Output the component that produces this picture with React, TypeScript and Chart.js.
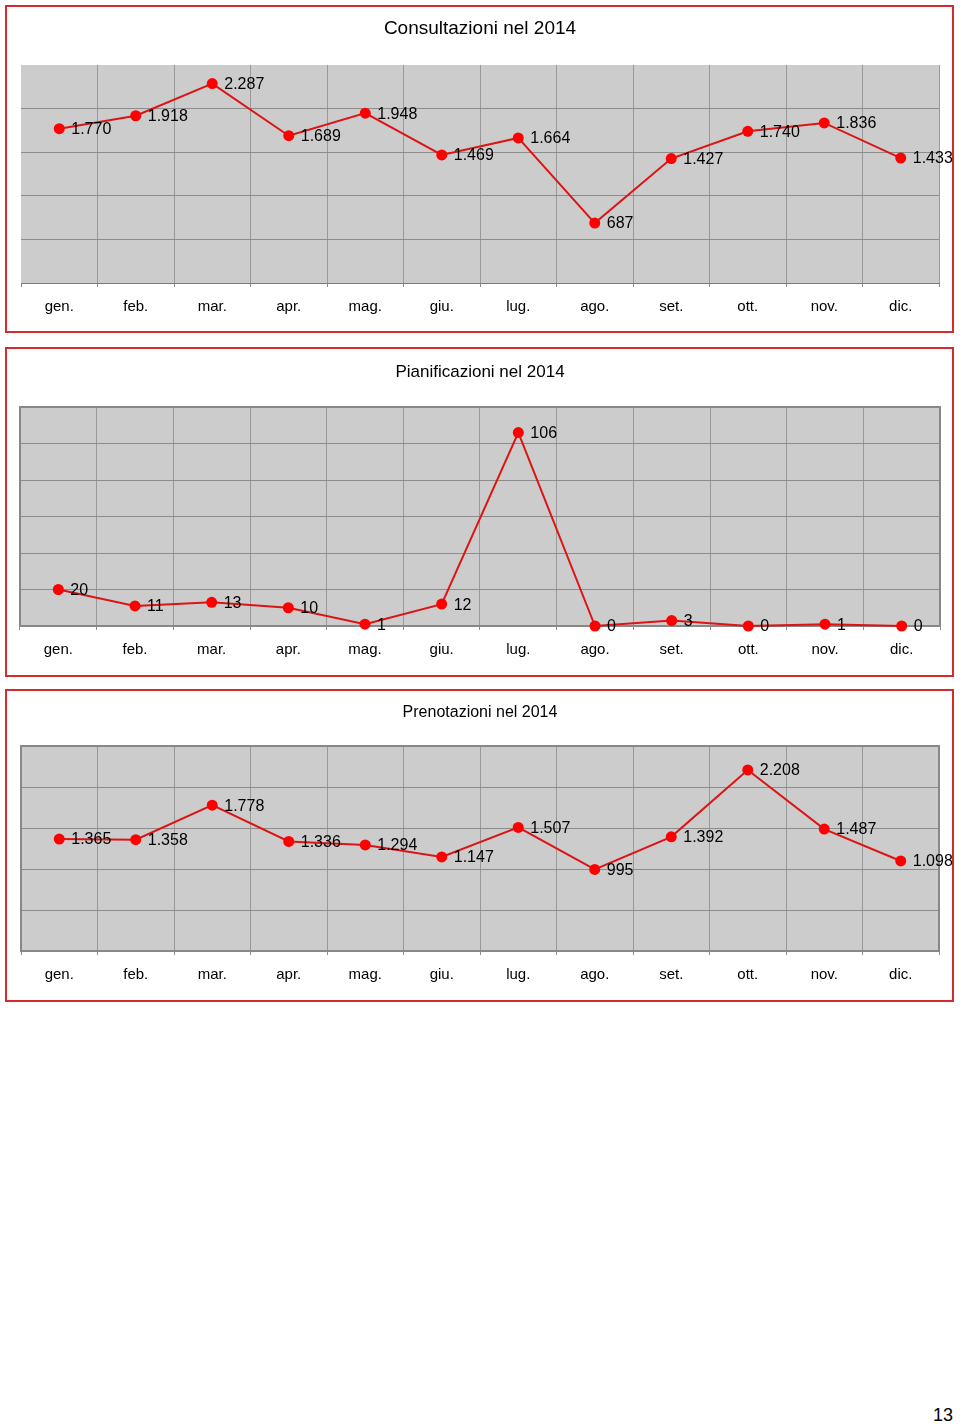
import React, { useEffect, useRef } from 'react';
import { Chart, registerables } from 'chart.js';

Chart.register(...registerables);

const MONTHS = ['gen.', 'feb.', 'mar.', 'apr.', 'mag.', 'giu.', 'lug.', 'ago.', 'set.', 'ott.', 'nov.', 'dic.'];
const CONSULTAZIONI = [1770, 1918, 2287, 1689, 1948, 1469, 1664, 687, 1427, 1740, 1836, 1433];
const PIANIFICAZIONI = [20, 11, 13, 10, 1, 12, 106, 0, 3, 0, 1, 0];
const PRENOTAZIONI = [1365, 1358, 1778, 1336, 1294, 1147, 1507, 995, 1392, 2208, 1487, 1098];

const TITLES = ['Consultazioni nel 2014', 'Pianificazioni nel 2014', 'Prenotazioni nel 2014'];
const Y_MAX = [2500, 120, 2500];
const Y_STEP = [500, 20, 500];
const PAGE_NUMBER = '13';

const FONT = '"Liberation Sans", Arial, Helvetica, sans-serif';
const LINE_COLOR = '#dd1414';
const POINT_COLOR = '#ff0000';
const GRID_COLOR = '#8c8c8c';
const PLOT_BG = '#cccccc';
const FRAME_COLOR = '#d52b2b';

function fmt(v: number): string {
  return String(v).replace(/\B(?=(\d{3})+(?!\d))/g, '.');
}

type Spec = {
  title: string;
  titleSize: number;
  titlePadTop: number;
  titlePadBottom: number;
  data: number[];
  max: number;
  step: number;
  canvasTop: number;
  canvasHeight: number;
  xHeight: number;
  padLeft: number;
  padRight: number;
  plotBorder: boolean;
  frameTop: number;
  frameHeight: number;
};

const SPECS: Spec[] = [
  {
    title: TITLES[0], titleSize: 19, titlePadTop: 17.6, titlePadBottom: 24.6,
    data: CONSULTAZIONI, max: Y_MAX[0], step: Y_STEP[0],
    canvasTop: 0, canvasHeight: 340, xHeight: 57, padLeft: 21, padRight: 21, plotBorder: false,
    frameTop: 5, frameHeight: 328,
  },
  {
    title: TITLES[1], titleSize: 17, titlePadTop: 21.8, titlePadBottom: 24.8,
    data: PIANIFICAZIONI, max: Y_MAX[1], step: Y_STEP[1],
    canvasTop: 340, canvasHeight: 345, xHeight: 59, padLeft: 20, padRight: 20, plotBorder: true,
    frameTop: 347, frameHeight: 330,
  },
  {
    title: TITLES[2], titleSize: 16, titlePadTop: 18.2, titlePadBottom: 23.6,
    data: PRENOTAZIONI, max: Y_MAX[2], step: Y_STEP[2],
    canvasTop: 685, canvasHeight: 325, xHeight: 59, padLeft: 21, padRight: 21, plotBorder: true,
    frameTop: 689, frameHeight: 313,
  },
];

function LineChart({ spec }: { spec: Spec }) {
  const ref = useRef<HTMLCanvasElement>(null);
  useEffect(() => {
    if (!ref.current) return;
    const plugin = {
      id: 'plotDecor',
      beforeDraw(chart: any) {
        const { ctx, chartArea: a } = chart;
        ctx.save();
        ctx.strokeStyle = FRAME_COLOR;
        ctx.lineWidth = 2;
        ctx.strokeRect(6, spec.frameTop - spec.canvasTop + 1, 947, spec.frameHeight - 2);
        ctx.fillStyle = PLOT_BG;
        ctx.fillRect(a.left, a.top, a.right - a.left, a.bottom - a.top);
        ctx.restore();
      },
      beforeDatasetsDraw(chart: any) {
        if (!spec.plotBorder) return;
        const { ctx, chartArea: a } = chart;
        ctx.save();
        ctx.strokeStyle = '#888888';
        ctx.lineWidth = 2;
        ctx.strokeRect(a.left, a.top, a.right - a.left, a.bottom - a.top);
        ctx.restore();
      },
      afterDatasetsDraw(chart: any) {
        const ctx = chart.ctx;
        const meta = chart.getDatasetMeta(0);
        const values = chart.data.datasets[0].data as number[];
        ctx.save();
        ctx.font = `16px ${FONT}`;
        ctx.fillStyle = '#000000';
        ctx.textAlign = 'left';
        ctx.textBaseline = 'middle';
        meta.data.forEach((el: any, i: number) => {
          ctx.fillText(fmt(values[i]), el.x + 12, el.y + 1);
        });
        ctx.restore();
      },
    };

    const chart = new Chart(ref.current, {
      type: 'line',
      data: {
        labels: MONTHS,
        datasets: [
          {
            data: spec.data,
            borderColor: LINE_COLOR,
            borderWidth: 2,
            pointBackgroundColor: POINT_COLOR,
            pointBorderColor: POINT_COLOR,
            pointRadius: 5.5,
            pointBorderWidth: 0,
            tension: 0,
            fill: false,
            clip: false as any,
          },
        ],
      },
      options: {
        responsive: false,
        animation: false,
        devicePixelRatio: 1,
        events: [],
        layout: {
          padding: { left: spec.padLeft, right: spec.padRight, top: 0, bottom: 0 },
        },
        plugins: {
          legend: { display: false },
          tooltip: { enabled: false },
          title: {
            display: true,
            text: spec.title,
            color: '#000000',
            font: { family: FONT, size: spec.titleSize, weight: 'normal' },
            padding: { top: spec.titlePadTop, bottom: spec.titlePadBottom },
          },
        },
        scales: {
          x: {
            type: 'category',
            offset: true,
            afterFit: (scale: any) => {
              scale.height = spec.xHeight;
            },
            grid: {
              offset: true,
              drawTicks: true,
              tickLength: 4,
              lineWidth: 1,
              tickColor: GRID_COLOR,
              color: (ctx: any) =>
                !spec.plotBorder && (ctx.index === 0 || ctx.index === MONTHS.length)
                  ? 'rgba(0,0,0,0)'
                  : '#999999',
            },
            border: { display: true, color: '#7a7a7a', width: 1 },
            ticks: {
              color: '#000000',
              font: { family: FONT, size: 15 },
              padding: 11,
              maxRotation: 0,
              autoSkip: false,
            },
          },
          y: {
            type: 'linear',
            min: 0,
            max: spec.max,
            afterFit: (scale: any) => {
              scale.width = 0;
            },
            ticks: { display: false, stepSize: spec.step },
            grid: {
              drawTicks: false,
              lineWidth: 1,
              color: (ctx: any) =>
                !spec.plotBorder && ctx.tick && ctx.tick.value === spec.max
                  ? 'rgba(0,0,0,0)'
                  : GRID_COLOR,
            },
            border: { display: false },
          },
        },
      },
      plugins: [plugin],
    });
    return () => chart.destroy();
  }, [spec]);

  return (
    <canvas
      ref={ref}
      width={960}
      height={spec.canvasHeight}
      style={{ position: 'absolute', left: 0, top: spec.canvasTop, width: 960, height: spec.canvasHeight }}
    />
  );
}

export default function App() {
  return (
    <>
      <style>{'html, body { margin: 0; padding: 0; background: #ffffff; }'}</style>
      <div
        style={{
          position: 'relative',
          width: 960,
          height: 1424,
          overflow: 'hidden',
          background: '#ffffff',
          fontFamily: FONT,
        }}
      >
        {SPECS.map((s, i) => (
          <LineChart key={i} spec={s} />
        ))}
        <div
          style={{
            position: 'absolute',
            left: 933,
            top: 1405,
            fontSize: 18,
            lineHeight: '20px',
            color: '#000000',
            fontFamily: FONT,
          }}
        >
          {PAGE_NUMBER}
        </div>
      </div>
    </>
  );
}
